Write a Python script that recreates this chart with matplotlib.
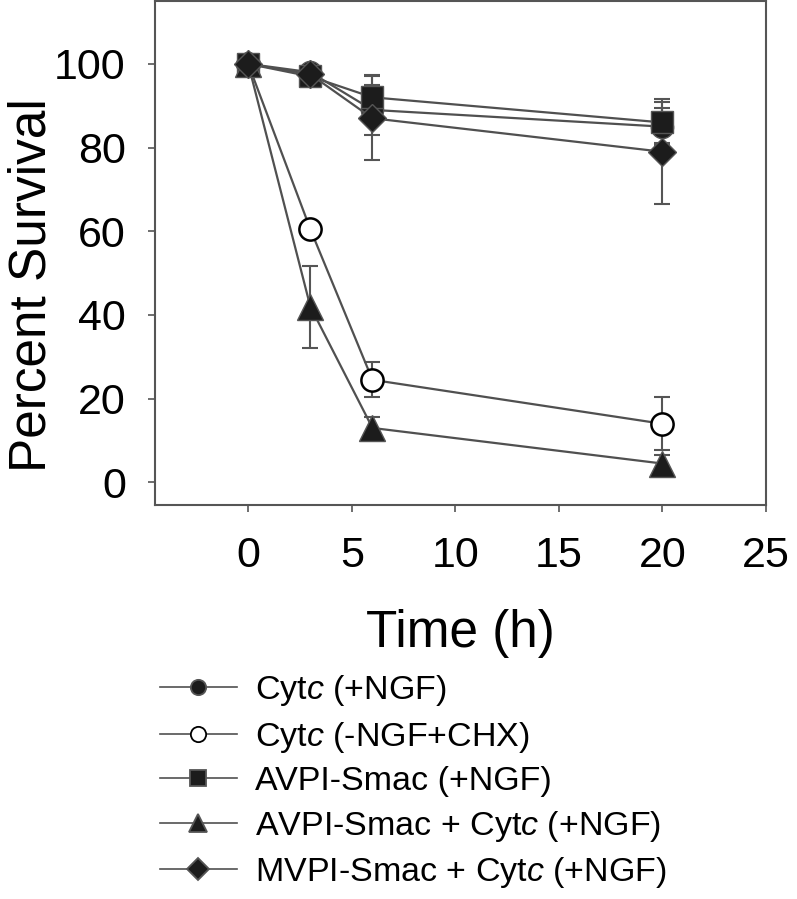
import matplotlib
matplotlib.use("Agg")
import matplotlib.pyplot as plt

plt.rcParams['font.family'] = ['Liberation Sans', 'DejaVu Sans']
plt.rcParams['mathtext.fontset'] = 'custom'
plt.rcParams['mathtext.rm'] = 'Liberation Sans'
plt.rcParams['mathtext.it'] = 'Liberation Sans:italic'

# time points (h)
time = [0, 3, 6, 20]

# survival values (%) and error bars
cytc_ngf = [100, 98, 89, 85]
cytc_ngf_err = [0, 0, 6, 4.5]
cytc_chx = [100, 60.5, 24.5, 14]
cytc_chx_err = [0, 0, 4.2, 6.3]
avpi_ngf = [100, 97, 92, 86]
avpi_ngf_err = [0, 0.8, 5.3, 5]
avpi_cytc = [100, 42, 13, 4.5]
avpi_cytc_err = [0, 9.8, 2.5, 2]
mvpi_cytc = [100, 97.5, 87, 79]
mvpi_cytc_err = [0, 0.8, 10, 12.5]

labels = [r'Cyt$\mathit{c}$ (+NGF)',
          r'Cyt$\mathit{c}$ (-NGF+CHX)',
          'AVPI-Smac (+NGF)',
          r'AVPI-Smac + Cyt$\mathit{c}$ (+NGF)',
          r'MVPI-Smac + Cyt$\mathit{c}$ (+NGF)']

xticks = [0, 5, 10, 15, 20, 25]
yticks = [0, 20, 40, 60, 80, 100]

fig = plt.figure(figsize=(7.97, 8.99), dpi=100)
ax = fig.add_axes([0.1945, 0.4383, 0.7665, 0.5605])

line_col = '#505050'
dark = '#1c1c1c'
# marker, face colour, size in plot, size in legend
series = [
    (cytc_ngf, cytc_ngf_err, 'o', dark, 16, 11),
    (cytc_chx, cytc_chx_err, 'o', 'white', 16, 11),
    (avpi_ngf, avpi_ngf_err, 's', dark, 16, 11),
    (avpi_cytc, avpi_cytc_err, '^', dark, 19, 13),
    (mvpi_cytc, mvpi_cytc_err, 'D', dark, 14, 11),
]

for (vals, err, mk, fc, ms, lms), lab in zip(series, labels):
    ec = 'black' if fc == 'white' else '#555555'
    ax.errorbar(time, vals, yerr=err, fmt='none', ecolor='#555555',
                elinewidth=1.5, capsize=5.5, capthick=1.5, zorder=2)
    ax.plot(time, vals, color=line_col, lw=1.6, marker=mk, ms=ms,
            mfc=fc, mec=ec, mew=1.8 if fc == 'white' else 1.0,
            zorder=3)

ax.set_xlim(-4.5, 25)
ax.set_ylim(-5.4, 115)
ax.set_xticks(xticks)
ax.set_yticks(yticks)
ax.tick_params(direction='out', length=5, width=1.2, color='#555555',
               labelsize=31)
ax.tick_params(axis='x', pad=17)
ax.tick_params(axis='y', pad=16)
for s in ax.spines.values():
    s.set_color('#555555')
    s.set_linewidth(1.5)

ax.set_xlabel('Time (h)', fontsize=37, labelpad=24)
ax.set_ylabel('Percent Survival', fontsize=37)
ax.yaxis.set_label_coords(-0.162, 0.437)

leg_handles = []
for (vals, err, mk, fc, ms, lms), lab in zip(series, labels):
    ec = 'black' if fc == 'white' else '#555555'
    lh, = ax.plot([], [], color=line_col, lw=1.2, marker=mk,
                  ms=lms, mfc=fc, mec=ec, mew=1.3)
    leg_handles.append(lh)

fig.legend(leg_handles, labels, loc='upper left',
           bbox_to_anchor=(0.2008, 0.2513), frameon=False, fontsize=24.5,
           handlelength=2.26, handletextpad=0.53, labelspacing=0.34,
           borderpad=0, borderaxespad=0)

fig.savefig('out.png', dpi=100)
